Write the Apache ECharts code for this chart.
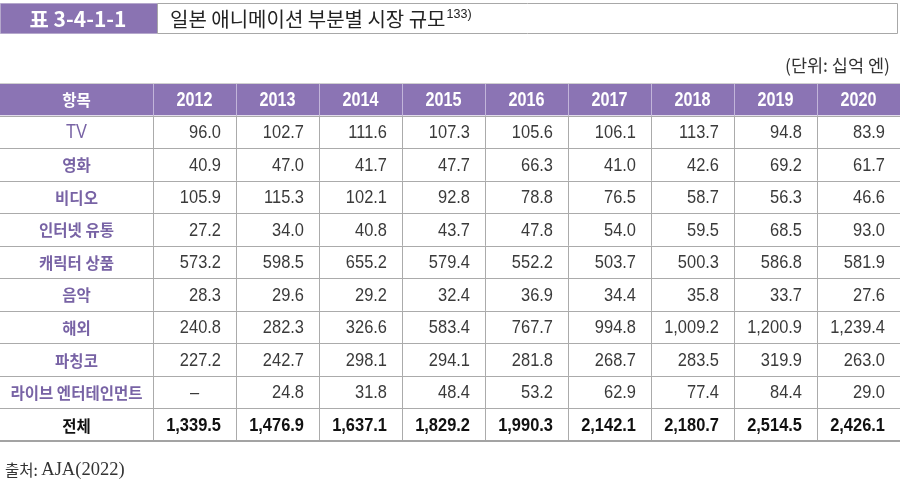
<!DOCTYPE html>
<html>
<head>
<meta charset="utf-8">
<script src="https://cdn.jsdelivr.net/npm/echarts@6/dist/echarts.min.js"></script>
<style>
html,body{margin:0;padding:0;background:#fff;}
#main{width:900px;height:486px;}
</style>
</head>
<body>
<div id="main"></div>
<script>
// ---- data ----
const headerLabel = '항목';
const rowLabels = ['TV', '영화', '비디오', '인터넷 유통', '캐릭터 상품', '음악', '해외', '파칭코', '라이브 엔터테인먼트', '전체'];
const years = ['2012', '2013', '2014', '2015', '2016', '2017', '2018', '2019', '2020'];
const tv       = [96.0, 102.7, 111.6, 107.3, 105.6, 106.1, 113.7, 94.8, 83.9];
const movie    = [40.9, 47.0, 41.7, 47.7, 66.3, 41.0, 42.6, 69.2, 61.7];
const video    = [105.9, 115.3, 102.1, 92.8, 78.8, 76.5, 58.7, 56.3, 46.6];
const internet = [27.2, 34.0, 40.8, 43.7, 47.8, 54.0, 59.5, 68.5, 93.0];
const merch    = [573.2, 598.5, 655.2, 579.4, 552.2, 503.7, 500.3, 586.8, 581.9];
const music    = [28.3, 29.6, 29.2, 32.4, 36.9, 34.4, 35.8, 33.7, 27.6];
const overseas = [240.8, 282.3, 326.6, 583.4, 767.7, 994.8, 1009.2, 1200.9, 1239.4];
const pachinko = [227.2, 242.7, 298.1, 294.1, 281.8, 268.7, 283.5, 319.9, 263.0];
const live     = [null, 24.8, 31.8, 48.4, 53.2, 62.9, 77.4, 84.4, 29.0];
const total    = [1339.5, 1476.9, 1637.1, 1829.2, 1990.3, 2142.1, 2180.7, 2514.5, 2426.1];
const rowValues = [tv, movie, video, internet, merch, music, overseas, pachinko, live, total];

const tableTitleNo = '표 3-4-1-1';
const tableTitle = '일본 애니메이션 부분별 시장 규모';
const tableTitleNote = '133)';
const unitText = '(단위: 십억 엔)';
const sourceLabel = '출처: ';
const sourceText = 'AJA(2022)';

// ---- styles ----
const PURPLE = '#8b74b4';
const LABEL_PURPLE = '#7863a5';
const LINE = '#ababab';
const HEAD_DIV = '#c2b5da';
const NUM_FONT = "'Liberation Sans', Arial, sans-serif";
const NUM_SCALE = 0.865;
const HEAD_SCALE = 0.81;
const KR_FONT = "'Noto Sans CJK KR', sans-serif";

const rowCats = [headerLabel].concat(rowLabels);
const nRows = rowCats.length;

function fmt(v) {
  if (v === null || v === undefined) return '–';
  const parts = v.toFixed(1).split('.');
  parts[0] = parts[0].replace(/\B(?=(\d{3})+(?!\d))/g, ',');
  return parts.join('.');
}

const labelData = rowCats.map((r, i) => [0, i]);
const valueData = [];
years.forEach((y, c) => {
  for (let r = 0; r < nRows; r++) valueData.push([c, r]);
});

function cellFrame(x0, y0, w, h, ri, ci, lastCol, isHeader) {
  const els = [];
  els.push({type: 'rect', z2: 0, shape: {x: x0, y: y0, width: w, height: h},
    style: {fill: isHeader ? PURPLE : '#ffffff'}});
  if (!lastCol) {
    const xx = Math.round(x0 + w) + 0.5;
    els.push({type: 'line', z2: isHeader ? 6 : 5, shape: {x1: xx, y1: y0, x2: xx, y2: y0 + h},
      style: {stroke: isHeader ? HEAD_DIV : LINE, lineWidth: 1}});
  }
  if (isHeader) {
    const yy = Math.round(y0) + 0.5;
    els.push({type: 'line', z2: 7, shape: {x1: x0, y1: yy, x2: x0 + w, y2: yy},
      style: {stroke: '#d0d0d0', lineWidth: 1}});
  }
  const last = ri === nRows - 1;
  const yb = last ? Math.round(y0 + h) : Math.round(y0 + h) + 0.5;
  els.push({type: 'line', z2: 7, shape: {x1: x0, y1: yb, x2: x0 + w, y2: yb},
    style: {stroke: last ? '#a3a3a3' : LINE, lineWidth: last ? 2 : 1}});
  return els;
}

function numText(text, x, y, align, fill, weight, size, scale) {
  return {type: 'text', z2: 10, x: x, y: y, scaleX: scale, style: {
    text: text, x: 0, y: 0, align: align, verticalAlign: 'middle',
    fill: fill, fontSize: size, fontWeight: weight, fontFamily: NUM_FONT
  }};
}

function renderLabel(params, api) {
  const ci = api.value(0), ri = api.value(1);
  const p = api.coord([ci, ri]);
  const s = api.size([1, 1]);
  const w = s[0], h = s[1];
  const x0 = p[0] - w / 2, y0 = p[1] - h / 2;
  const isHeader = ri === 0;
  const els = cellFrame(x0, y0, w, h, ri, ci, false, isHeader);
  let fill = LABEL_PURPLE;
  if (isHeader) fill = '#ffffff';
  if (ri === nRows - 1) fill = '#111111';
  if (ri === 1) {
    els.push(numText(rowCats[ri], p[0], p[1] + 1, 'center', fill, 'normal', 20, 0.82));
  } else {
    els.push({type: 'text', z2: 10, style: {
      text: rowCats[ri], x: p[0], y: p[1] + 1, align: 'center', verticalAlign: 'middle',
      fill: fill, fontSize: 15.5, fontWeight: 'bold', fontFamily: KR_FONT
    }});
  }
  return {type: 'group', children: els};
}

function renderValue(params, api) {
  const ci = api.value(0), ri = api.value(1);
  const p = api.coord([ci, ri]);
  const s = api.size([1, 1]);
  const w = s[0], h = s[1];
  const x0 = p[0] - w / 2, y0 = p[1] - h / 2;
  const isHeader = ri === 0;
  const els = cellFrame(x0, y0, w, h, ri, ci, ci === years.length - 1, isHeader);
  if (isHeader) {
    els.push(numText(years[ci], p[0], p[1] + 1, 'center', '#ffffff', 'bold', 20, HEAD_SCALE));
  } else {
    const v = rowValues[ri - 1][ci];
    const isTotal = ri === nRows - 1;
    const missing = v === null;
    els.push(numText(fmt(v), missing ? p[0] : x0 + w - 15, p[1] + 1,
      missing ? 'center' : 'right', isTotal ? '#111111' : '#3a3a3a',
      isTotal ? 'bold' : 'normal', 19, NUM_SCALE));
  }
  return {type: 'group', children: els};
}

const hiddenAxis = {axisLine: {show: false}, axisTick: {show: false}, axisLabel: {show: false}, splitLine: {show: false}};

const chart = echarts.init(document.getElementById('main'), null, {renderer: 'canvas'});
chart.setOption({
  animation: false,
  backgroundColor: '#ffffff',
  title: [
    {text: unitText, right: 5, top: 52,
      textStyle: {fontFamily: KR_FONT, fontSize: 17.5, fontWeight: 'normal', color: '#333333'}},
    {text: '{a|' + sourceLabel + '}{b|' + sourceText + '}', left: 0, top: 456,
      textStyle: {fontWeight: 'normal', rich: {
        a: {fontFamily: KR_FONT, fontSize: 15.5, fontWeight: 'normal', color: '#333333'},
        b: {fontFamily: "'Liberation Serif', serif", fontSize: 18.5, fontWeight: 'normal', color: '#333333'}
      }}}
  ],
  graphic: [
    {type: 'rect', shape: {x: 0.5, y: 3.5, width: 157, height: 30}, style: {fill: '#8a73b2', stroke: '#b5a8cc', lineWidth: 1}},
    {type: 'rect', shape: {x: 157.5, y: 3.5, width: 740, height: 30}, style: {fill: '#ffffff', stroke: '#a8a8a8', lineWidth: 1}},
    {type: 'text', style: {text: tableTitleNo, x: 78, y: 19, align: 'center', verticalAlign: 'middle',
      fill: '#ffffff', fontFamily: KR_FONT, fontSize: 21, fontWeight: 'bold'}},
    {type: 'text', style: {text: '{t|' + tableTitle + '}{s|' + tableTitleNote + '}', x: 170, y: 19, verticalAlign: 'middle',
      rich: {
        t: {fontFamily: KR_FONT, fontSize: 20, fill: '#222222', verticalAlign: 'middle'},
        s: {fontFamily: "'Liberation Sans', sans-serif", fontSize: 12.5, fill: '#222222', verticalAlign: 'top', padding: [0, 0, 8, 1]}
      }}}
  ],
  grid: [
    {left: 0, top: 83, width: 153, height: 358},
    {left: 153, top: 83, width: 747, height: 358}
  ],
  xAxis: [
    Object.assign({type: 'category', gridIndex: 0, data: [headerLabel]}, hiddenAxis),
    Object.assign({type: 'category', gridIndex: 1, data: years}, hiddenAxis)
  ],
  yAxis: [
    Object.assign({type: 'category', gridIndex: 0, data: rowCats, inverse: true}, hiddenAxis),
    Object.assign({type: 'category', gridIndex: 1, data: rowCats, inverse: true}, hiddenAxis)
  ],
  series: [
    {type: 'custom', xAxisIndex: 0, yAxisIndex: 0, data: labelData, renderItem: renderLabel, clip: false},
    {type: 'custom', xAxisIndex: 1, yAxisIndex: 1, data: valueData, renderItem: renderValue, clip: false}
  ]
});
</script>
</body>
</html>
